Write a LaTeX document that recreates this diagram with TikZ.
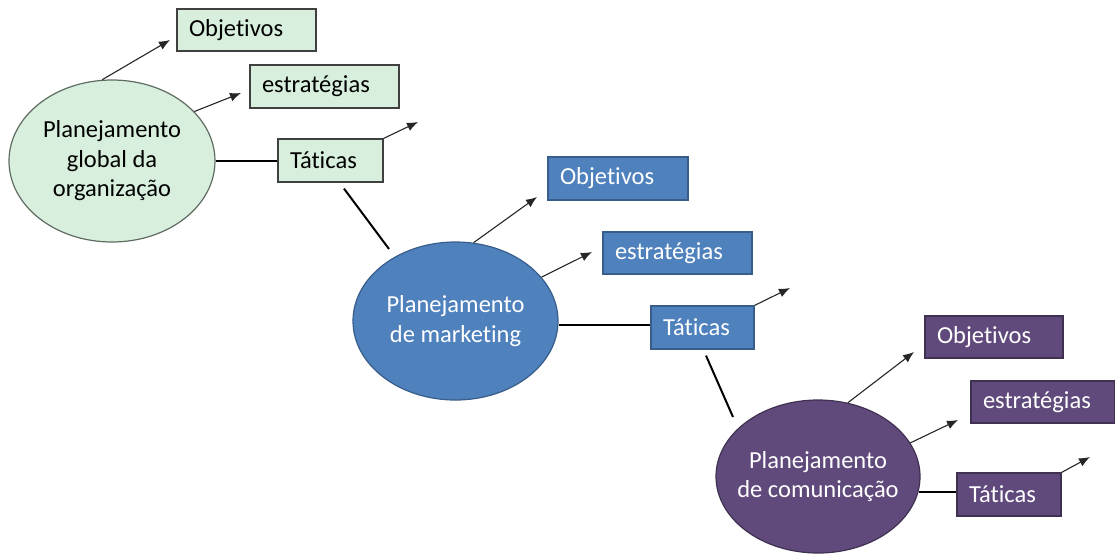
\documentclass[tikz,border=0pt]{standalone}
\usepackage{fontspec}
\setmainfont{Carlito}[Ligatures={NoCommon}]
\usetikzlibrary{shapes.geometric,arrows.meta,calc}
\definecolor{greenfill}{HTML}{D7EFDC}
\definecolor{greenline}{HTML}{5F6B61}
\definecolor{bluefill}{HTML}{4F81BD}
\definecolor{blueline}{HTML}{385D8A}
\definecolor{purplefill}{HTML}{604A7B}
\definecolor{purpleline}{HTML}{3F3151}
\tikzset{
  plan/.style={ellipse, draw, line width=1.2pt, inner sep=0pt},
  plantext/.style={align=center, font=\fontsize{24.5}{29.5}\selectfont},
  box/.style={draw, line width=1.2pt, inner xsep=12pt, inner ysep=0pt,
    align=left, font=\fontsize{24.5}{29.5}\selectfont},
  greenbox/.style={box, fill=greenfill, draw=black!75, text=black},
  bluebox/.style={box, fill=bluefill, draw=blueline, text=white},
  purplebox/.style={box, fill=purplefill, draw=purpleline, text=white},
  arr/.style={-{Latex[length=11pt,width=9pt]}, line width=1.1pt, black!85},
  link/.style={line width=2pt, black}
}
\begin{document}
\begin{tikzpicture}[x=1pt,y=-1pt]
\useasboundingbox (0,0) rectangle (1115,555);

% --- global planning ---
\node[plan, fill=greenfill, draw=greenline, minimum width=206pt, minimum height=162pt] (e1) at (112,161) {};
\node[plantext, text=black] (e1t) at (e1) {Planejamento\\global da\\organização};
\node[greenbox, text width=115pt, minimum height=42pt] (o1) at (246.5,30) {Objetivos};
\node[greenbox, text width=125pt, minimum height=43pt] (s1) at (324.5,86.5) {estratégias};
\node[greenbox, text width=81pt, minimum height=43pt] (t1) at (330.5,160.5) {Táticas};
\coordinate (o1a) at (170,40);
\coordinate (s1a) at (241,93);
\coordinate (t1a) at (418,122);
\draw[arr] (e1.97) -- (o1a);
\draw[arr] (e1.31) -- (s1a);
\draw[link] (e1.east) -- (e1.east -| t1.west);
\draw[arr] (t1.north east) -- (t1a);

% --- marketing planning ---
\node[plan, fill=bluefill, draw=blueline, minimum width=205pt, minimum height=158pt] (e2) at (455.5,321) {};
\node[plantext, text=white] (e2t) at (e2) {Planejamento\\de marketing};
\node[bluebox, text width=116pt, minimum height=43pt] (o2) at (618,178.5) {Objetivos};
\node[bluebox, text width=125pt, minimum height=42pt] (s2) at (677.5,253) {estratégias};
\node[bluebox, text width=79pt, minimum height=43pt] (t2) at (702.5,327.5) {Táticas};
\coordinate (o2a) at (537,197);
\coordinate (s2a) at (592,252);
\coordinate (t2a) at (790,288);
\draw[link] ($(t1.south)+(13.5,6)$) -- ($(e2)+(-66.5,-72)$);
\draw[arr] (e2.77.5) -- (o2a);
\draw[arr] (e2.27) -- (s2a);
\draw[link] ($(e2.east)+(0,4)$) -- ($(e2.east -| t2.west)+(0,4)$);
\draw[arr] (t2.north east) -- (t2a);

% --- communication planning ---
\node[plan, fill=purplefill, draw=purpleline, minimum width=204pt, minimum height=153pt] (e3) at (818,476.5) {};
\node[plantext, text=white] (e3t) at (e3) {Planejamento\\de comunicação};
\node[purplebox, text width=114pt, minimum height=42pt] (o3) at (994,337) {Objetivos};
\node[purplebox, text width=120pt, minimum height=42pt] (s3) at (1043,402) {estratégias};
\node[purplebox, text width=80pt, minimum height=43pt] (t3) at (1009,494.5) {Táticas};
\coordinate (o3a) at (914,352);
\coordinate (s3a) at (958,420);
\coordinate (t3a) at (1090,457);
\draw[link] ($(t2.south)+(3.5,6)$) -- ($(e3)+(-85,-59.5)$);
\draw[arr] (e3.68) -- (o3a);
\draw[arr] (e3.20) -- (s3a);
\draw[link] ($(t3.west)+(0,-3)$) -- ($(t3.west -| e3.east)+(-2,-3)$);
\draw[arr] (t3.north east) -- (t3a);
\end{tikzpicture}
\end{document}
